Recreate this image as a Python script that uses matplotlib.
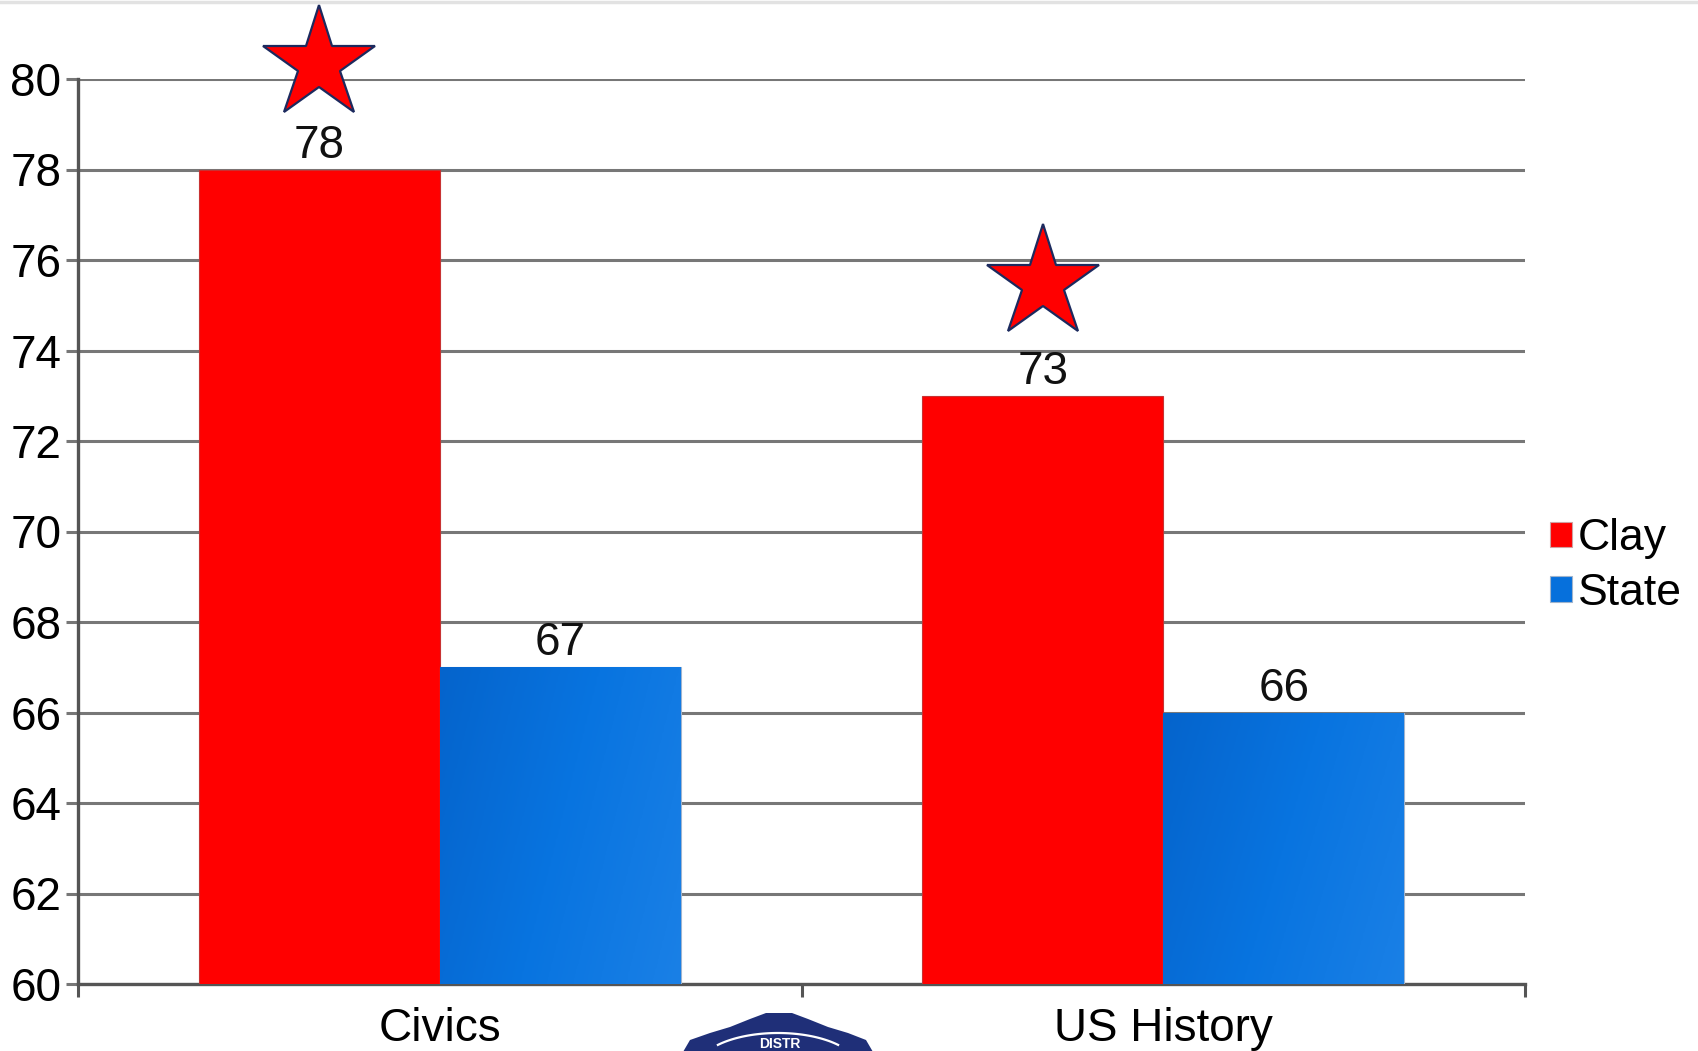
import matplotlib
matplotlib.use("Agg")
import matplotlib.pyplot as plt
import numpy as np
from matplotlib.patches import Patch, Polygon
from matplotlib.colors import LinearSegmentedColormap

plt.rcParams["font.family"] = ["Liberation Sans", "DejaVu Sans"]

categories = ["Civics", "US History"]
series = ["Clay", "State"]
clay = [78, 73]
state = [67, 66]
star_y = [80.33, 75.5]  # stars drawn above the Clay bars

RED = "#ff0000"
BLUE = "#0670dc"
W, H = 1698, 1051
FS = 33

fig = plt.figure(figsize=(W / 100, H / 100), dpi=100)
ax = fig.add_axes([78 / W, 1 - 984 / H, 1447 / W, 905 / H])

x = np.arange(len(categories)) + 0.5
bw = 0.333

red_bars = ax.bar(x - bw / 2, clay, bw, color=RED, edgecolor="#c83232",
                  linewidth=0.8, zorder=3)
blue_bars = ax.bar(x + bw / 2, state, bw, color=BLUE, edgecolor="#9fb4cf",
                   linewidth=0.8, zorder=3)

# subtle left-to-right gradient on the blue bars
cmap = LinearSegmentedColormap.from_list("bl", ["#0564cc", "#0874e0", "#1a80e6"])
gy, gx = np.mgrid[0:1:100j, 0:1:100j]
grad = gx * 0.75 + gy * 0.25
for b in blue_bars:
    x0, w = b.get_x(), b.get_width()
    im = ax.imshow(grad, cmap=cmap, extent=[x0, x0 + w, 60, b.get_height()],
                   aspect="auto", origin="upper", zorder=3.5)
    im.set_clip_path(b)

for bars in (red_bars, blue_bars):
    for b in bars:
        ax.annotate(f"{b.get_height():g}", (b.get_x() + b.get_width() / 2, b.get_height()),
                    xytext=(0, 8.5), textcoords="offset points", ha="center",
                    va="baseline", fontsize=FS, color="#111111", zorder=5)

ax.plot(x - bw / 2, star_y, ls="none", marker="*", ms=85, mfc=RED, mec="#1c2a5e",
        mew=1.6, clip_on=False, zorder=6)

ax.set_xlim(0, 2)
ax.set_ylim(60, 80)
ax.set_yticks(np.arange(60, 81, 2))
ax.set_xticks([0, 1, 2])
ax.set_xticklabels([])
ax.set_xticks(x, minor=True)
ax.set_xticklabels(categories, minor=True)
ax.tick_params(axis="x", which="minor", length=0, pad=16.5, labelsize=FS)
ax.tick_params(axis="x", which="major", length=9, width=2.2, color="#555555")
ax.tick_params(axis="y", length=9, width=2.2, color="#777777", pad=3, labelsize=FS)
ax.grid(axis="y", color="#777777", lw=2.2, zorder=1)
ax.set_axisbelow(True)
for s in ("top", "right"):
    ax.spines[s].set_visible(False)
for s in ("left", "bottom"):
    ax.spines[s].set_color("#555555")
    ax.spines[s].set_linewidth(2.4)

handles = [Patch(facecolor=RED, edgecolor="#d0a0a0", lw=0.8),
           Patch(facecolor=BLUE, edgecolor="#a0b4cc", lw=0.8)]
fig.legend(handles, series, loc="center left", bbox_to_anchor=(1528 / W, 1 - 566 / H),
           frameon=False, fontsize=32, handlelength=0.5, handleheight=0.5,
           handletextpad=0.12, labelspacing=0.3, borderpad=0)

# faint line along the top edge
fig.add_artist(plt.Line2D([0, 1], [1 - 1.5 / H, 1 - 1.5 / H], color="#e2e2e2", lw=2.5,
                          transform=fig.transFigure))

# partial district seal peeking in at the bottom
seal = [(683, 1052), (690, 1040), (710, 1033), (730, 1027), (750, 1019), (766, 1013),
        (792, 1013), (808, 1019), (828, 1027), (848, 1033), (866, 1040), (873, 1052)]
fig.add_artist(Polygon([(px / W, 1 - py / H) for px, py in seal], closed=True,
                       facecolor="#1f2f78", edgecolor="none", transform=fig.transFigure))
t = np.linspace(-0.85, 0.85, 60)
fig.add_artist(plt.Line2D((778 + 80 * np.sin(t)) / W, 1 - (1033 + 35 * (1 - np.cos(t))) / H,
                          color="white", lw=1.6, transform=fig.transFigure))
fig.text(780 / W, 1 - 1037 / H, "DISTR", color="white", fontsize=10, weight="bold",
         ha="center", va="top")

fig.savefig("out.png", dpi=100)
